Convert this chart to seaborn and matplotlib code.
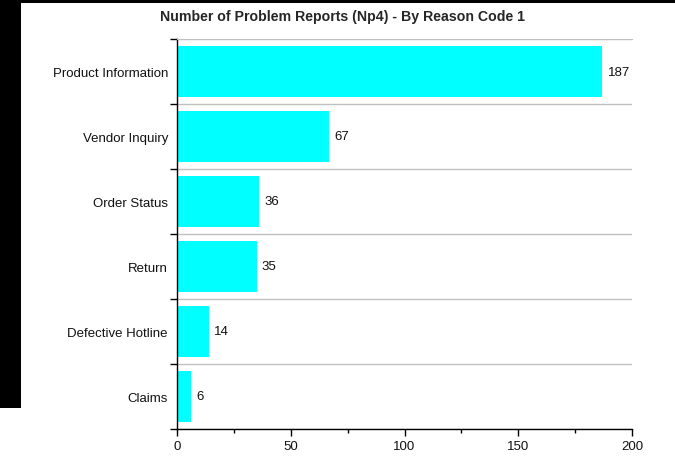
import matplotlib
matplotlib.use("Agg")
import matplotlib.pyplot as plt
import seaborn as sns
import pandas as pd
import numpy as np
from matplotlib.patches import Rectangle
from matplotlib.ticker import MultipleLocator, FixedLocator

categories = ["Product Information", "Vendor Inquiry", "Order Status", "Return", "Defective Hotline", "Claims"]
values = [187, 67, 36, 35, 14, 6]
x_ticks = [0, 50, 100, 150, 200]

sns.set_style("white")
plt.rcParams['font.family'] = ['Liberation Sans', 'DejaVu Sans']

df = pd.DataFrame({"reason": categories, "count": values})

fig = plt.figure(figsize=(6.75, 4.64), dpi=100)
ax = fig.add_axes([177/675, 1 - 430/464, (632 - 177)/675, (430 - 40)/464])

sns.barplot(data=df, y="reason", x="count", orient="h", color="#00ffff",
            saturation=1, width=0.79, ax=ax, edgecolor="none")

ax.set_xlim(0, 200)
ax.set_ylim(len(categories) - 0.5, -0.5)
ax.set_xlabel("")
ax.set_ylabel("")

ax.xaxis.set_major_locator(FixedLocator(x_ticks))
ax.xaxis.set_minor_locator(MultipleLocator(25))
ax.tick_params(axis="x", which="major", length=5, width=1, color="black", labelsize=9.5,
               pad=3, direction="out", bottom=True, labelcolor="#111111")
ax.tick_params(axis="x", which="minor", length=3, width=1, color="black", bottom=True)

ax.yaxis.set_minor_locator(FixedLocator(np.arange(-0.5, len(categories), 1.0)))
ax.tick_params(axis="y", which="major", length=0, labelsize=9.5, pad=6.5, labelcolor="#111111")
ax.tick_params(axis="y", which="minor", length=5, width=1, color="black", left=True)
ax.grid(False)
ax.yaxis.grid(True, which="minor", color="#c0c0c0", linewidth=1)
ax.set_axisbelow(True)

ax.spines["right"].set_visible(False)
ax.spines["top"].set_color("#c0c0c0")
ax.spines["left"].set_color("black")
ax.spines["bottom"].set_color("black")
ax.spines["left"].set_linewidth(1)
ax.spines["bottom"].set_linewidth(1)

for i, v in enumerate(values):
    ax.annotate(str(v), xy=(v, i), xytext=(3.8, 0), textcoords="offset points",
                va="center", ha="left", fontsize=9.5, color="#111111")

fig.text(342/675, 1 - 17/464, "Number of Problem Reports (Np4) - By Reason Code 1",
         ha="center", va="center", fontsize=10.2, fontweight="bold")

# black border strips seen in the reference
fig.patches.append(Rectangle((0, 1 - 4/464), 1, 4/464, transform=fig.transFigure,
                             facecolor="black", edgecolor="none", zorder=10))
fig.patches.append(Rectangle((0, 1 - 409/464), 21/675, 409/464, transform=fig.transFigure,
                             facecolor="black", edgecolor="none", zorder=10))

fig.savefig("out.png", dpi=100)
